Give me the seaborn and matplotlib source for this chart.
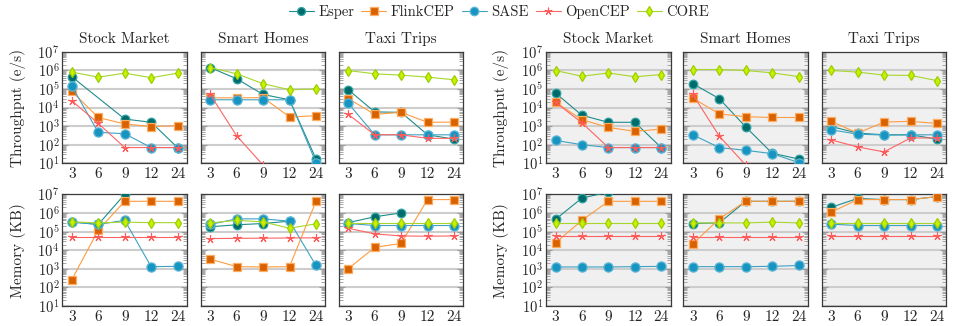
import numpy as np
import matplotlib
matplotlib.use("Agg")
import matplotlib.pyplot as plt
import matplotlib.ticker as mticker
from matplotlib.lines import Line2D
import seaborn as sns

nan = np.nan

# x categories (number of events / pattern length)
x_labels = ["3", "6", "9", "12", "24"]
datasets = ["Stock Market", "Smart Homes", "Taxi Trips"]
systems = ["Esper", "FlinkCEP", "SASE", "OpenCEP", "CORE"]

# ---- left group, throughput (e/s)
thr_l_stock = {"Esper": [4.5e5, nan, 2.4e3, 1.6e3, 70], "FlinkCEP": [7.4e4, 2.9e3, 1.3e3, 950, 1.05e3],
               "SASE": [1.4e5, 460, 390, 70, 70], "OpenCEP": [2.3e4, 1.4e3, 70, 70, 70],
               "CORE": [8e5, 4.3e5, 7e5, 4e5, 7e5]}
thr_l_smart = {"Esper": [1.4e6, 3.5e5, 5e4, 2.6e4, 17], "FlinkCEP": [3.3e4, 3.3e4, 3.4e4, 3.1e3, 3.6e3],
               "SASE": [2.6e4, 2.6e4, 2.6e4, 2.6e4, 11], "OpenCEP": [5e4, 300, 8, nan, nan],
               "CORE": [1.4e6, 6.5e5, 1.9e5, 9e4, 1e5]}
thr_l_taxi = {"Esper": [9e4, 5.8e3, 5.5e3, 340, 200], "FlinkCEP": [3e4, 4.3e3, 5.5e3, 1.6e3, 1.65e3],
              "SASE": [1.7e4, 340, 340, 340, 340], "OpenCEP": [4.3e3, 340, 340, 220, 220],
              "CORE": [9.7e5, 6.5e5, 5.5e5, 4.3e5, 3.1e5]}

# ---- left group, memory (KB)
mem_l_stock = {"Esper": [3.3e5, 2.4e5, 1e7, nan, nan], "FlinkCEP": [260, 1.2e5, 4.2e6, 4.2e6, 4.2e6],
               "SASE": [3.2e5, 2.4e5, 4e5, 1.3e3, 1.35e3], "OpenCEP": [4.9e4, 4.9e4, 4.9e4, 4.9e4, 4.9e4],
               "CORE": [3.3e5, 2.9e5, 3.2e5, 3e5, 3e5]}
mem_l_smart = {"Esper": [1.8e5, 2.3e5, 2.7e5, 3.6e5, nan], "FlinkCEP": [3.3e3, 1.3e3, 1.25e3, 1.3e3, 4.2e6],
               "SASE": [2.4e5, 4.8e5, 4.8e5, 3.6e5, 1.5e3], "OpenCEP": [4.2e4, 4.3e4, 4.4e4, 4.5e4, 4.6e4],
               "CORE": [2.9e5, 4e5, 3.3e5, 1.5e5, 2.6e5]}
mem_l_taxi = {"Esper": [3e5, 6.2e5, 1e6, nan, nan], "FlinkCEP": [1e3, 1.4e4, 2.3e4, 5.2e6, 5.2e6],
              "SASE": [2.7e5, 2.1e5, 2.1e5, 2.1e5, 2.1e5], "OpenCEP": [1.5e5, 7.5e4, 5.8e4, 5.6e4, 5.8e4],
              "CORE": [2.9e5, 2.9e5, 2.9e5, 2.9e5, 2.9e5]}

# ---- right group, throughput (e/s)
thr_r_stock = {"Esper": [6e4, 3.8e3, 1.6e3, 1.6e3, 70], "FlinkCEP": [1.9e4, 2.2e3, 850, 520, 690],
               "SASE": [170, 100, 70, 70, 70], "OpenCEP": [1.9e4, 1.5e3, 70, 70, 70],
               "CORE": [9.7e5, 4.8e5, 7.2e5, 4.5e5, 5.9e5]}
thr_r_smart = {"Esper": [1.9e5, 3e4, 900, 35, 17], "FlinkCEP": [3.2e4, 4.5e3, 3.2e3, 2.9e3, 2.9e3],
               "SASE": [340, 70, 50, 33, 11], "OpenCEP": [5e4, 290, 8, nan, nan],
               "CORE": [1.1e6, 1.1e6, 9.8e5, 7.3e5, 4.6e5]}
thr_r_taxi = {"Esper": [950, 420, 340, 340, 200], "FlinkCEP": [1.8e3, 420, 1.65e3, 1.8e3, 1.4e3],
              "SASE": [630, 370, 330, 340, 340], "OpenCEP": [180, 76, 41, 230, 230],
              "CORE": [9.8e5, 8e5, 5.5e5, 5.3e5, 2.8e5]}

# ---- right group, memory (KB)
mem_r_stock = {"Esper": [4.5e5, 6.3e6, 1.3e7, nan, nan], "FlinkCEP": [2.5e4, 4e5, 4.2e6, 4.2e6, 4.2e6],
               "SASE": [1.25e3, 1.25e3, 1.25e3, 1.3e3, 1.35e3], "OpenCEP": [5.6e4, 5.6e4, 5.6e4, 5.6e4, 5.6e4],
               "CORE": [3e5, 3e5, 3e5, 3e5, 3e5]}
mem_r_smart = {"Esper": [2.7e5, 2.9e5, 4.2e6, 4.2e6, 4.2e6], "FlinkCEP": [2.2e4, 4.8e5, 4.2e6, 4.2e6, 4.2e6],
               "SASE": [1.3e3, 1.3e3, 1.3e3, 1.35e3, 1.5e3], "OpenCEP": [5e4, 5e4, 5e4, 5e4, 5e4],
               "CORE": [2.9e5, 2.9e5, 2.9e5, 3.2e5, 2.9e5]}
mem_r_taxi = {"Esper": [2e6, 6e6, 5.2e6, 5.2e6, 7.5e6], "FlinkCEP": [1.1e6, 5.2e6, 5.2e6, 5.2e6, 7.5e6],
              "SASE": [2.5e5, 2.1e5, 2.1e5, 2.1e5, 2.1e5], "OpenCEP": [6e4, 6e4, 6e4, 6e4, 6e4],
              "CORE": [2.9e5, 2.9e5, 2.9e5, 2.9e5, 2.9e5]}

y_ticks = [1e1, 1e2, 1e3, 1e4, 1e5, 1e6, 1e7]

# marker / colour style per system
styles = {
    "Esper":    dict(color="#1f8c8c", marker="o", mfc="#006b6b", mec="#2fa3a3", ms=6.2, mew=0.9),
    "FlinkCEP": dict(color="#ff9b40", marker="s", mfc="#d96200", mec="#ffad60", ms=6.0, mew=0.9),
    "SASE":     dict(color="#3ea2c2", marker="o", mfc="#1894c0", mec="#5cb6d6", ms=6.6, mew=0.9),
    "OpenCEP":  dict(color="#ff6464", marker=(5, 2, 0), mfc="#ff6464", mec="#ff5a5a", ms=6.0, mew=0.8),
    "CORE":     dict(color="#a6d62c", marker="d", mfc="#c8f000", mec="#9ccf00", ms=5.2, mew=0.9),
}

sns.set_style("white")
plt.rcParams["font.family"] = ["cmr10", "DejaVu Serif"]
plt.rcParams["mathtext.fontset"] = "cm"
plt.rcParams["axes.formatter.use_mathtext"] = True

W, H = 954, 326
fig = plt.figure(figsize=(W / 100, H / 100), dpi=100)

lefts = [[62.3, 200.7, 338.7], [546.0, 683.3, 821.7]]
pw = 124.8
rows = [(51.7, 163.3), (194.3, 306.0)]

panels = [
    [[thr_l_stock, thr_l_smart, thr_l_taxi], [mem_l_stock, mem_l_smart, mem_l_taxi]],
    [[thr_r_stock, thr_r_smart, thr_r_taxi], [mem_r_stock, mem_r_smart, mem_r_taxi]],
]
ylabels = ["Throughput (e/s)", "Memory (KB)"]
ylab_x = [18, 501]
xpos = np.arange(len(x_labels))

for g in range(2):
    face = "white" if g == 0 else "#f0f0f0"
    for r, (top, bot) in enumerate(rows):
        for c in range(3):
            ax = fig.add_axes([lefts[g][c] / W, 1 - bot / H, pw / W, (bot - top) / H])
            ax.set_facecolor(face)
            ax.set_yscale("log")
            data = panels[g][r][c]
            for s in systems:
                vals = np.array(data[s], dtype=float)
                m = ~np.isnan(vals)
                st = styles[s]
                sns.lineplot(x=xpos[m], y=vals[m], ax=ax, color=st["color"], lw=0.8,
                             marker=st["marker"], markerfacecolor=st["mfc"],
                             markeredgecolor=st["mec"], markersize=st["ms"],
                             markeredgewidth=st["mew"], errorbar=None, sort=False, zorder=3)
            ax.set_ylim(10, 1e7)
            ax.set_xlim(-0.36, 4.36)
            ax.set_xticks(xpos)
            ax.set_xticklabels(x_labels)
            ax.yaxis.set_major_locator(mticker.FixedLocator(y_ticks))
            ax.yaxis.set_major_formatter(mticker.LogFormatterSciNotation())
            ax.yaxis.set_minor_locator(mticker.LogLocator(base=10, subs=np.arange(2, 10), numticks=20))
            ax.yaxis.set_minor_formatter(mticker.NullFormatter())
            ax.yaxis.grid(True, which="major", color="#cdcdcd", lw=1.5, zorder=0)
            ax.xaxis.grid(False)
            ax.tick_params(axis="x", length=0, labelsize=11, pad=3)
            ax.tick_params(axis="y", which="both", direction="in", left=True, right=True,
                           color="#9a9a9a", labelsize=10.5, pad=2)
            ax.tick_params(axis="y", which="major", length=4, width=0.8)
            ax.tick_params(axis="y", which="minor", length=3, width=0.6)
            if c != 0:
                ax.tick_params(axis="y", which="both", labelleft=False)
            for sp in ax.spines.values():
                sp.set_color("#3a3a3a")
                sp.set_linewidth(0.9)
            ax.set_xlabel("")
            ax.set_ylabel("")
            if r == 0:
                ax.set_title(datasets[c], fontsize=11, pad=6)
        fig.text(ylab_x[g] / W, 1 - (top + bot) / 2 / H, ylabels[r], rotation=90,
                 ha="center", va="center", fontsize=11)

handles = []
for s in systems:
    st = styles[s]
    handles.append(Line2D([0], [0], color=st["color"], lw=0.8, marker=st["marker"],
                          markerfacecolor=st["mfc"], markeredgecolor=st["mec"],
                          markersize=st["ms"] - 0.5, markeredgewidth=st["mew"]))
fig.legend(handles, systems, loc="center", bbox_to_anchor=(499 / W, 1 - 12 / H), ncol=5,
           frameon=False, fontsize=10.5, handlelength=1.7, handletextpad=0.3,
           columnspacing=0.5, borderpad=0)

fig.savefig("out.png", dpi=100)
